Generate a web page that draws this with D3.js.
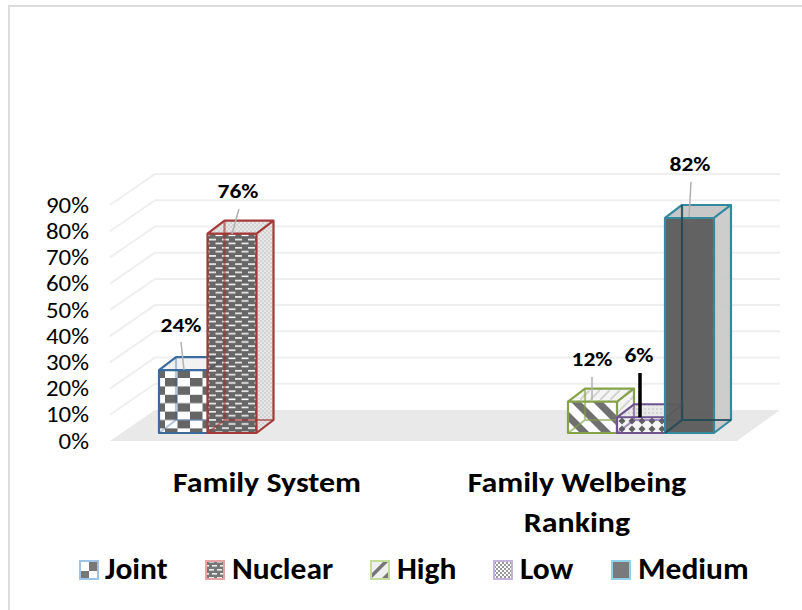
<!DOCTYPE html>
<html><head><meta charset="utf-8">
<script src="https://cdn.jsdelivr.net/npm/d3@7"></script>
<style>html,body{margin:0;padding:0;background:#fff}svg{display:block}text{font-family:Carlito,Lato,"Open Sans",sans-serif;fill:#000}</style>
</head><body><div id="c"></div>
<script>
const groups = ["Family System", "Family Welbeing Ranking"];
const seriesNames = ["Joint", "Nuclear", "High", "Low", "Medium"];
const seriesValues = [24, 76, 12, 6, 82];
const seriesStroke = ["#3a6a9e", "#a33a38", "#87a34a", "#6f5490", "#338a9f"];
const legendStroke = ["#9dc3e6", "#e6a3a1", "#c5dd9b", "#c3b2da", "#8fd3e8"];
const legendX = [79, 205, 370, 493, 611];
const tickValues = [0,10,20,30,40,50,60,70,80,90];

const W=802,H=610,dx=17,dy=-13;
const svg=d3.select("#c").append("svg").attr("width",W).attr("height",H);
const defs=svg.append("defs");
function pat(id,w,h,draw,tr){const p=defs.append("pattern").attr("id",id).attr("patternUnits","userSpaceOnUse").attr("width",w).attr("height",h);if(tr)p.attr("patternTransform",tr);draw(p);}
const D="#5a5a5a";
function rect(p,x,y,w,h,c){p.append("rect").attr("x",x).attr("y",y).attr("width",w).attr("height",h).attr("fill",c);}
function stretch(sel,k){sel.each(function(){const l=this.getComputedTextLength();d3.select(this).attr("textLength",l*k).attr("lengthAdjust","spacingAndGlyphs");});return sel;}
pat("p0",25,16.8,p=>{rect(p,0,0,25,16.8,"#fff");rect(p,0,0,12.5,8.4,D);rect(p,12.5,8.4,12.5,8.4,D);},"translate(165,378)");
pat("p1",13,8.2,p=>{rect(p,0,0,13,8.2,D);rect(p,1,1,7,1.5,"#fff");rect(p,7.5,5,7,1.5,"#fff");rect(p,-5.5,5,7,1.5,"#fff");});
pat("p2",22,22,p=>{rect(p,0,0,22,22,"#fff");p.append("path").attr("d","M-5,0 L0,-5 L27,22 L22,27 Z M-5,22 L0,17 L5,22 L0,27 Z M17,0 L22,-5 L27,0 L22,5 Z").attr("fill","#666");},"translate(570,396)");
pat("p3",10,8,p=>{rect(p,0,0,10,8,"#f6f6f6");p.append("path").attr("d","M5,0.5L8.5,4L5,7.5L1.5,4Z").attr("fill","#555");},"translate(617,417)");
pat("p4",8,8,p=>{rect(p,0,0,8,8,D);});
pat("s0",6,6,p=>{rect(p,0,0,6,6,"#f1f1f1");});
pat("s1",4,4,p=>{rect(p,0,0,4,4,"#e4e4e4");rect(p,0,0,2,2,"#cfcfcf");rect(p,2,2,2,2,"#cfcfcf");});
pat("s2",10,10,p=>{rect(p,0,0,10,10,"#f4f4f4");p.append("path").attr("d","M0,10L10,0").attr("stroke","#d0d0d0").attr("stroke-width",2);});
pat("s3",4,4,p=>{rect(p,0,0,4,4,"#e8e8e8");rect(p,0,0,2,2,"#d2d2d2");});
pat("s4",4,4,p=>{rect(p,0,0,4,4,"#c8c8c8");});
pat("l1",8,8,p=>{rect(p,0,0,8,8,"#777");rect(p,1,1,5,1.6,"#eee");rect(p,4,5,5,1.6,"#eee");rect(p,-1,5,2,1.6,"#eee");});
pat("l3",4,4,p=>{rect(p,0,0,4,4,"#fff");rect(p,0,0,2,2,"#999");rect(p,2,2,2,2,"#999");});
pat("l0",18,18,p=>{rect(p,0,0,18,18,"#fff");rect(p,0,0,9,9,"#fff");rect(p,9,0,9,9,"#777");rect(p,0,9,9,9,"#777");rect(p,9,9,9,9,"#fff");},"translate(80,562)");
pat("l2",18,18,p=>{rect(p,0,0,18,18,"#f0f0f0");p.append("path").attr("d","M0,12L12,0L17,0L0,17Z M18,9L18,18L9,18Z").attr("fill","#777");},"translate(371,562)");
pat("l4",8,8,p=>{rect(p,0,0,8,8,"#7a7a7a");});

// frame: only the top and left hairlines show
svg.append("path").attr("d",`M802,6H9V610`).attr("fill","none").attr("stroke","#dcdcdc").attr("stroke-width",2);

const yFront=d3.scaleLinear().domain([0,90]).range([441,205]);
const backX=155, frontX=110, rightX=780, backDy=-31;
svg.append("path").attr("d",`M${frontX},${yFront(0)}L${backX},${yFront(0)+backDy}L${rightX},${yFront(0)+backDy}L${rightX-43},${yFront(0)}Z`).attr("fill","#e9e9e9");
tickValues.slice(1).forEach(t=>{
  svg.append("path").attr("d",`M${frontX},${yFront(t)}L${backX},${yFront(t)+backDy}L${rightX},${yFront(t)+backDy}`).attr("fill","none").attr("stroke","#efefef").attr("stroke-width",2);
});
stretch(svg.append("g").selectAll("text").data(tickValues).join("text")
  .attr("x",89).attr("y",d=>yFront(d)).attr("dy","0.35em").attr("text-anchor","end").attr("font-size",22).text(d=>d+"%"),1.13);

const xPos=d3.scaleOrdinal().domain(seriesNames).range([159,207.5,568,617,665]);
const barW=49, floorY=433;
const h=d3.scaleLinear().domain([0,90]).range([0,236]);
function poly(pts){return "M"+pts.map(p=>p.join(",")).join("L")+"Z";}
seriesNames.forEach((n,i)=>{
  const v=seriesValues[i],x0=xPos(n),x1=x0+barW,yb=floorY,yt=floorY-h(v),c=seriesStroke[i];
  const g=svg.append("g");
  const sw=2.2;
  g.append("path").attr("d",`M${x0+dx},${yb+dy}V${yt+dy} M${x0},${yb}L${x0+dx},${yb+dy}H${x1+dx}`).attr("fill","none").attr("stroke",c).attr("stroke-width",sw).attr("opacity",i==0?0.5:0.8);
  g.append("path").attr("d",poly([[x0,yt],[x0+dx,yt+dy],[x1+dx,yt+dy],[x1,yt]])).attr("fill",`url(#s${i})`).attr("fill-opacity",i==4?1:0.9);
  g.append("path").attr("d",poly([[x1,yt],[x1+dx,yt+dy],[x1+dx,yb+dy],[x1,yb]])).attr("fill",`url(#s${i})`).attr("fill-opacity",0.9);
  g.append("rect").attr("x",x0).attr("y",yt).attr("width",barW).attr("height",yb-yt).attr("fill",`url(#p${i})`).attr("fill-opacity",i==4?0.95:0.92);
  g.append("path").attr("d",`M${x0},${yb}V${yt}H${x1}V${yb}Z M${x0},${yt}L${x0+dx},${yt+dy}H${x1+dx}L${x1},${yt} M${x1+dx},${yt+dy}V${yb+dy}L${x1},${yb}`).attr("fill","none").attr("stroke",c).attr("stroke-width",sw).attr("stroke-linejoin","round");
  g.append("path").attr("d",`M${x0+dx},${yb+dy}V${yt+dy} M${x0},${yb}L${x0+dx},${yb+dy}H${x1+dx}`).attr("fill","none").attr("stroke",i==4?"#1f4a56":c).attr("stroke-width",sw).attr("opacity",i==0?0.35:i==4?0.85:0.6);
});
seriesNames.forEach((n,i)=>{
  const v=seriesValues[i],yt=floorY-h(v);
  if(i==3){
    svg.append("line").attr("x1",640).attr("x2",640).attr("y1",yt).attr("y2",373).attr("stroke","#000").attr("stroke-width",3.5);
  } else {
    const tx=[181,239,592,0,691][i], ty=[342,209,377,0,182][i], bx=[184,232,592,0,689][i], by=[370,234,400,0,217][i];
    svg.append("line").attr("x1",tx).attr("x2",bx).attr("y1",ty).attr("y2",by).attr("stroke","#b0b0b0").attr("stroke-width",1.5);
  }
  const tx=[181,238,592,639,690][i], ty=[332,198,366,362,171][i];
  stretch(svg.append("text").attr("x",tx).attr("y",ty).attr("text-anchor","middle").attr("font-size",21).attr("font-weight",700).text(v+"%"),1.12);
});
function cat(x,y,t){stretch(svg.append("text").attr("x",x).attr("y",y).attr("text-anchor","middle").attr("font-size",28).attr("font-weight",700).text(t),1.14);}
const g2=groups[1].split(" ");
cat(267,492,groups[0]);
cat(577,492,g2[0]+" "+g2[1]);
cat(577,532,g2[2]);
seriesNames.forEach((n,i)=>{
  svg.append("rect").attr("x",legendX[i]+1).attr("y",561).attr("width",18).attr("height",18).attr("fill",`url(#l${i})`).attr("stroke",legendStroke[i]).attr("stroke-width",2);
  stretch(svg.append("text").attr("x",legendX[i]+(i==0?26:27)).attr("y",579).attr("font-size",30).attr("font-weight",700).text(n),1.05);
});
</script></body></html>
